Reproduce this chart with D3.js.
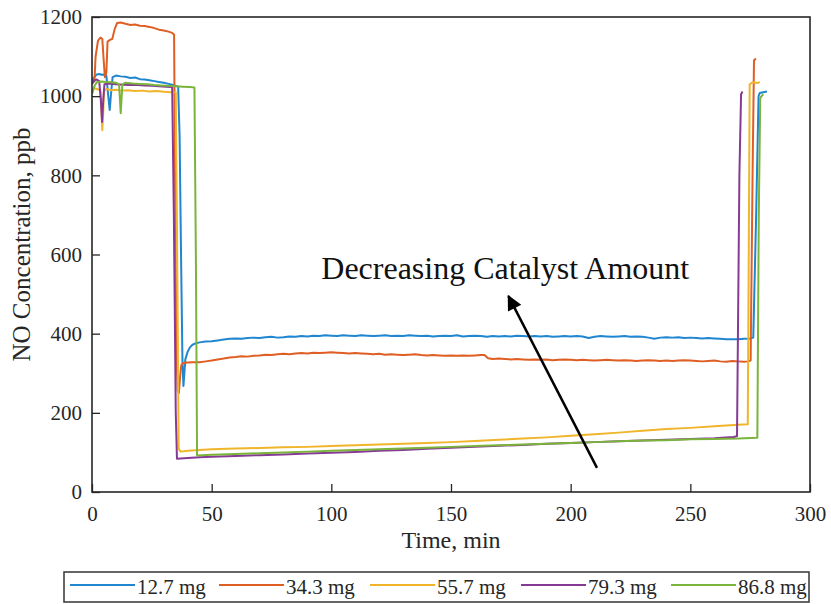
<!DOCTYPE html>
<html>
<head>
<meta charset="utf-8">
<script src="https://cdn.jsdelivr.net/npm/d3@7"></script>
<style>
  html, body { margin: 0; padding: 0; background: #fff; }
  svg { display: block; font-family: "Liberation Serif", "Times New Roman", serif; }
</style>
</head>
<body>
<svg id="chart" width="831" height="604"></svg>
<script>
// NO concentration (ppb) versus time (min) for five catalyst loadings.
const seriesNames = ["12.7 mg", "34.3 mg", "55.7 mg", "79.3 mg", "86.8 mg"];
const seriesColors = ["#1f86cf", "#df5e24", "#f0b52a", "#873a95", "#7ab43a"];
const xTicks = [0, 50, 100, 150, 200, 250, 300];
const yTicks = [0, 200, 400, 600, 800, 1000, 1200];

// [time, concentration] samples
const run12_7 = [
  [0,1038],[1,1048],[2,1055],[3,1056],[4,1054],[5,1055],[6,1052],[6.8,1000],[7.4,965],[8,1010],[8.6,1048],
  [10,1052],[12,1050],[14,1049],[16,1046],[18,1047],[20,1043],[22,1042],[24,1040],[26,1038],[28,1036],
  [30,1034],[32,1031],[34,1028],[36,1024],[36.6,900],[37.2,600],[37.8,330],[38.2,268],[38.6,300],[39,335],
  [40,355],[41,366],[42,372],[43,375],[45,378],[47.5,380],[50,381],[52.5,383],[55,385],[57.5,387],[60,388],
  [62.5,387],[65,389],[67.5,390],[70,389],[72.5,391],[75,392],[77.5,390],[80,391],[82.5,393],[85,392],
  [87.5,394],[90,393],[92.5,395],[95,394],[97.5,396],[100,395],[102.5,394],[105,396],[107.5,395],[110,394],
  [112.5,396],[115,395],[117.5,394],[120,395],[122.5,396],[125,394],[127.5,395],[130,394],[132.5,396],
  [135,395],[137.5,394],[140,395],[142.5,393],[145,394],[147.5,395],[150,394],[152.5,396],[155,393],
  [157.5,394],[160,395],[162.5,394],[165,392],[167.5,394],[170,393],[172.5,394],[175,393],[177.5,395],
  [180,394],[182.5,393],[185,394],[187.5,393],[190,394],[192.5,392],[195,393],[197.5,394],[200,393],
  [202.5,394],[205,393],[207.5,389],[210,392],[212.5,394],[215,393],[217.5,392],[220,393],[222.5,394],
  [225,392],[227.5,393],[230,392],[232.5,390],[235,387],[237.5,390],[240,391],[242.5,390],[245,391],
  [247.5,389],[250,390],[252.5,389],[255,388],[257.5,389],[260,388],[262.5,387],[265,386],[267.5,386],
  [270,386],[272.5,387],[275,388],[276.3,390],[277.5,700],[278.5,1000],[279,1008],[280.5,1010],[282,1012]
];
const run34_3 = [
  [1,1035],[1.5,1100],[2.5,1140],[3.5,1148],[4.3,1145],[5,1080],[5.4,1048],[6,1060],[6.5,1138],[7.5,1142],
  [8.5,1145],[9.5,1170],[10.5,1185],[12,1186],[14,1183],[16,1180],[18,1181],[20,1178],[22,1177],[24,1175],
  [26,1172],[28,1168],[30,1166],[32,1163],[33.5,1160],[34.3,1155],[34.8,700],[35.3,350],[35.8,255],
  [36.3,250],[36.8,290],[37.3,320],[38,326],[40,327],[42,328],[45,328],[47.5,330],[50,332],[52.5,335],
  [55,337],[57.5,340],[60,341],[62.5,343],[65,342],[67.5,344],[70,345],[72.5,347],[75,346],[77.5,348],
  [80,349],[82.5,348],[85,350],[87.5,351],[90,350],[92.5,352],[95,351],[97.5,352],[100,353],[102.5,352],
  [105,351],[107.5,350],[110,351],[112.5,350],[115,349],[117.5,348],[120,349],[122.5,347],[125,348],
  [127.5,347],[130,346],[132.5,347],[135,348],[137.5,346],[140,345],[142.5,346],[145,345],[147.5,344],
  [150,345],[152.5,344],[155,345],[157.5,344],[160,345],[162.5,346],[164,346],[165.5,338],[167.5,336],
  [170,337],[172.5,336],[175,335],[177.5,336],[180,335],[182.5,334],[185,335],[187.5,334],[190,335],
  [192.5,333],[195,334],[197.5,335],[200,334],[202.5,333],[205,334],[207.5,333],[210,332],[212.5,333],
  [215,334],[217.5,333],[220,332],[222.5,333],[225,332],[227.5,331],[230,332],[232.5,333],[235,332],
  [237.5,331],[240,332],[242.5,331],[245,332],[247.5,333],[250,332],[252.5,331],[255,330],[257.5,331],
  [260,332],[262.5,330],[265,329],[267.5,331],[270,330],[272.5,329],[274,330],[275.2,332],[276,800],
  [276.6,1090],[277.4,1095]
];
const run55_7 = [
  [0,1015],[1,1020],[2,1018],[3.5,1015],[4,960],[4.3,914],[4.7,960],[5,1013],[6,1018],[8,1015],[10,1016],
  [12,1014],[15,1015],[18,1013],[21,1014],[24,1012],[27,1013],[30,1011],[33,1010],[35,1010],[35.6,600],
  [36.2,110],[37,102],[40,104],[45,106],[50,108],[60,110],[70,111],[80,113],[90,114],[100,116],[110,118],
  [120,120],[130,122],[140,124],[150,126],[160,129],[170,132],[180,135],[190,138],[200,142],[210,146],
  [220,150],[230,155],[240,159],[250,162],[260,166],[270,170],[274,171],[274.8,1030],[276,1035],
  [278,1033],[279,1036]
];
const run79_3 = [
  [0,1030],[1,1040],[2,1042],[3,1038],[3.7,990],[4.2,935],[4.7,990],[5.2,1030],[7,1032],[10,1030],
  [13,1029],[16,1028],[19,1028],[22,1027],[25,1026],[28,1025],[31,1024],[33.5,1023],[34.2,700],[35,200],
  [35.5,84],[40,86],[45,88],[50,89],[60,91],[70,93],[80,95],[90,97],[100,99],[110,101],[120,104],
  [130,106],[140,109],[150,112],[160,114],[170,117],[180,119],[190,122],[200,124],[210,126],[220,128],
  [230,130],[240,132],[250,134],[260,136],[268,139],[269.5,141],[270.5,800],[271.2,1005],[271.8,1012]
];
const run86_8 = [
  [0,1005],[1,1025],[2,1035],[4,1037],[6,1036],[8,1035],[10,1034],[11.3,1030],[12,957],[12.7,1030],
  [14,1034],[17,1032],[20,1031],[23,1030],[26,1028],[29,1027],[32,1026],[35,1025],[38,1024],[41,1023],
  [42.8,1022],[43.4,600],[43.9,92],[46,93],[50,94],[60,96],[70,98],[80,100],[90,102],[100,104],
  [110,106],[120,108],[130,110],[140,112],[150,114],[160,116],[170,118],[180,120],[190,122],[200,124],
  [210,126],[220,128],[230,130],[240,131],[250,133],[260,134],[270,135],[278,137],[278.6,700],
  [279.2,995],[280,1002],[280.5,1005]
];
const runs = [run12_7, run34_3, run55_7, run79_3, run86_8];

// Annotation: label text, its anchor and the arrow endpoints, all in data units
const noteText = "Decreasing Catalyst Amount";
const notePos = [95.8, 538];
const arrowFrom = [211, 61];
const arrowTo = [174, 495];

const svg = d3.select("#chart");
const plotLeft = 92, plotRight = 810, plotTop = 17, plotBottom = 492;

const x = d3.scaleLinear().domain([0, 300]).range([plotLeft, plotRight]);
const y = d3.scaleLinear().domain([0, 1200]).range([plotBottom, plotTop]);

svg.append("defs").append("clipPath").attr("id", "plotClip")
  .append("rect").attr("x", plotLeft).attr("y", plotTop)
  .attr("width", plotRight - plotLeft).attr("height", plotBottom - plotTop);

// Series lines
const line = d3.line().x(d => x(d[0])).y(d => y(d[1]));
const plot = svg.append("g").attr("clip-path", "url(#plotClip)");
runs.forEach((r, i) => {
  plot.append("path")
    .datum(r)
    .attr("d", line)
    .attr("fill", "none")
    .attr("stroke", seriesColors[i])
    .attr("stroke-width", 2)
    .attr("stroke-linejoin", "round");
});

// Axes with inward ticks
const axisColor = "#262626";
const xAxis = svg.append("g").attr("transform", `translate(0,${plotBottom})`)
  .call(d3.axisBottom(x).tickValues(xTicks).tickFormat(d3.format("d"))
    .tickSizeInner(-8).tickSizeOuter(0).tickPadding(14));
const yAxis = svg.append("g").attr("transform", `translate(${plotLeft},0)`)
  .call(d3.axisLeft(y).tickValues(yTicks).tickFormat(d3.format("d"))
    .tickSizeInner(-8).tickSizeOuter(0).tickPadding(10));
[xAxis, yAxis].forEach(a => {
  a.select(".domain").remove();
  a.selectAll(".tick line").attr("stroke", axisColor).attr("stroke-width", 1.3);
  a.selectAll(".tick text")
    .attr("fill", "#262626")
    .style("font-family", "'Liberation Serif', serif")
    .style("font-size", "21px");
});

// Frame around plot area
svg.append("rect")
  .attr("x", plotLeft).attr("y", plotTop)
  .attr("width", plotRight - plotLeft).attr("height", plotBottom - plotTop)
  .attr("fill", "none").attr("stroke", axisColor).attr("stroke-width", 1.6);

// Axis titles
svg.append("text")
  .attr("x", (plotLeft + plotRight) / 2).attr("y", 548)
  .attr("text-anchor", "middle")
  .style("font-size", "24px").attr("fill", "#262626")
  .text("Time, min");
svg.append("text")
  .attr("transform", `translate(30,${(plotTop + plotBottom) / 2 - 10}) rotate(-90)`)
  .attr("text-anchor", "middle")
  .style("font-size", "25px").attr("fill", "#262626")
  .text("NO Concentration, ppb");

// Annotation arrow and label
const marker = svg.select("defs").append("marker")
  .attr("id", "arrowHead")
  .attr("viewBox", "0 0 10 10")
  .attr("refX", 9).attr("refY", 5)
  .attr("markerWidth", 8).attr("markerHeight", 6)
  .attr("markerUnits", "strokeWidth")
  .attr("orient", "auto");
marker.append("path").attr("d", "M0,0 L10,5 L0,10 Z").attr("fill", "#000");

svg.append("line")
  .attr("x1", x(arrowFrom[0])).attr("y1", y(arrowFrom[1]))
  .attr("x2", x(arrowTo[0])).attr("y2", y(arrowTo[1]))
  .attr("stroke", "#000").attr("stroke-width", 2.5)
  .attr("marker-end", "url(#arrowHead)");

svg.append("text")
  .attr("x", x(notePos[0])).attr("y", y(notePos[1]))
  .style("font-size", "32px").attr("fill", "#111")
  .text(noteText);

// Legend box below the plot
const legend = svg.append("g");
legend.append("rect")
  .attr("x", 64).attr("y", 572).attr("width", 745).attr("height", 30)
  .attr("fill", "#fff").attr("stroke", "#404040").attr("stroke-width", 1.6);
const legendStarts = [70, 219, 370, 521, 671];
seriesNames.forEach((name, i) => {
  const lx = legendStarts[i];
  legend.append("line")
    .attr("x1", lx).attr("x2", lx + 65)
    .attr("y1", 585).attr("y2", 585)
    .attr("stroke", seriesColors[i]).attr("stroke-width", 2);
  legend.append("text")
    .attr("x", lx + 67).attr("y", 594)
    .style("font-size", "21px").attr("fill", "#262626")
    .text(name);
});
</script>
</body>
</html>
